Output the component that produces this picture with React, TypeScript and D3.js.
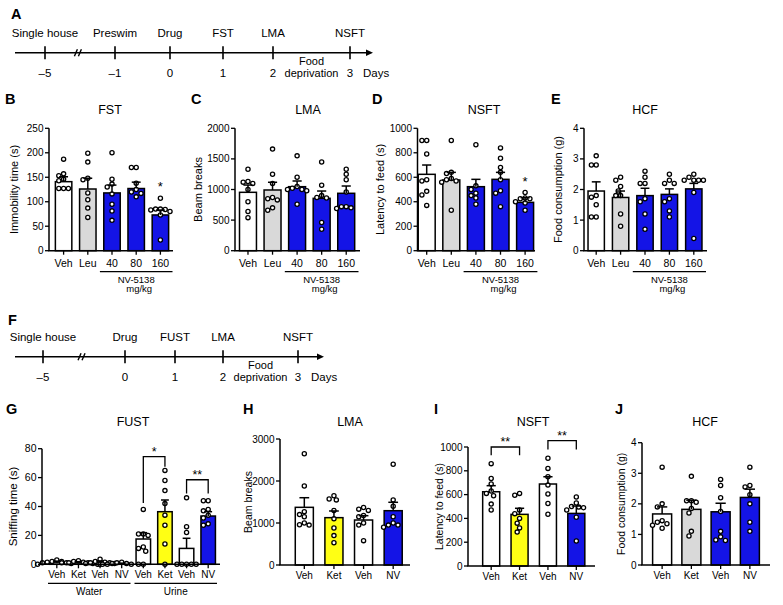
import React from "react";
import * as d3 from "d3";

const FONT = "'Liberation Sans', Arial, Helvetica, sans-serif";

// ---------------- Data ----------------
// Timelines
const timelineAEvents = ["Single house", "Preswim", "Drug", "FST", "LMA", "NSFT"];
const timelineADays = [-5, -1, 0, 1, 2, 3];
const timelineFEvents = ["Single house", "Drug", "FUST", "LMA", "NSFT"];
const timelineFDays = [-5, 0, 1, 2, 3];

// Panels B–E
const doseCategories = ["Veh", "Leu", "40", "80", "160"];
const doseGroupLabel = ["NV-5138", "mg/kg"];

const fstMeans = [141, 126, 118, 127, 73];
const fstSem = [10, 22, 16, 13, 10];
const fstPoints = [
  [187, 157, 153, 146, 143, 127, 127, 127],
  [199, 181, 148, 145, 118, 104, 87, 68],
  [200, 146, 136, 130, 116, 95, 81, 62],
  [170, 170, 138, 125, 120, 117, 110],
  [107, 85, 85, 84, 83, 80, 73, 22],
];
const fstTicks = [0, 50, 100, 150, 200, 250];
const fstStars = ["", "", "", "", "*"];

const lmaMeans = [954, 992, 1046, 856, 938];
const lmaSem = [119, 126, 93, 119, 119];
const lmaPoints = [
  [1330, 1130, 1120, 1100, 1000, 800, 640, 540],
  [1660, 1250, 1100, 870, 850, 830, 700, 660],
  [1550, 1200, 1050, 1020, 1000, 1000, 980, 760],
  [1450, 1070, 900, 870, 860, 460, 350],
  [1330, 1250, 1160, 960, 720, 720, 700, 690],
];
const lmaTicks = [0, 500, 1000, 1500, 2000];

const nsftMeans = [624, 578, 523, 583, 395];
const nsftSem = [76, 62, 60, 57, 38];
const nsftPoints = [
  [900, 900, 790, 580, 570, 485, 455, 370],
  [900, 640, 630, 590, 580, 570, 560, 330],
  [865, 530, 500, 470, 450, 430, 380],
  [840, 755, 680, 640, 580, 490, 470, 360],
  [475, 430, 425, 425, 400, 390, 330],
];
const nsftTicks = [0, 200, 400, 600, 800, 1000];
const nsftStars = ["", "", "", "", "*"];

const hcfMeans = [1.95, 1.74, 1.8, 1.84, 2.02];
const hcfSem = [0.3, 0.21, 0.24, 0.18, 0.18];
const hcfPoints = [
  [3.1, 2.8, 2.8, 1.8, 1.75, 1.5, 1.1, 1.1],
  [2.4, 2.3, 2.1, 1.95, 1.8, 1.8, 1.2, 0.8],
  [2.6, 2.4, 2.2, 2.2, 1.7, 1.6, 1.2, 0.7],
  [2.5, 2.3, 2.2, 2.2, 1.7, 1.6, 1.3, 1.1],
  [2.5, 2.4, 2.3, 2.3, 2.3, 2.3, 1.9, 0.4],
];
const hcfTicks = [0, 1, 2, 3, 4];

// Panel G (FUST)
const fustCategories = ["Veh", "Ket", "Veh", "NV", "Veh", "Ket", "Veh", "NV"];
const fustGroups = ["Water", "Urine"];
const fustMeans = [1.5, 1.2, 1.5, 0.5, 17.5, 36.4, 11, 33.4];
const fustSem = [0.7, 0.6, 0.8, 0.3, 4.4, 8.1, 7, 3];
const fustPoints = [
  [3, 2, 2, 1.5, 1, 1, 0.5, 0],
  [2.5, 2, 1.5, 1, 1, 1, 0.5, 0],
  [3.5, 2, 1.5, 1, 1, 0.5, 0.5, 0],
  [1.5, 1, 0.5, 0.5, 0, 0, 0, 0],
  [38, 21, 21, 20, 12, 11, 9, 0],
  [65, 58, 51, 42, 34, 27, 14, 0],
  [46, 26, 22, 0, 0, 0, 0, 0],
  [44, 44, 38, 37, 34, 32, 28, 27],
];
const fustTicks = [0, 20, 40, 60, 80];
const fustBrackets = [
  { from: 4, to: 5, label: "*", top: 74.5, left: 42.5, right: 67.5 },
  { from: 6, to: 7, label: "**", top: 58.5, left: 49, right: 49 },
];

// Panels H–J
const ketNvCategories = ["Veh", "Ket", "Veh", "NV"];

const lma2Means = [1373, 1127, 1071, 1293];
const lma2Sem = [229, 159, 103, 200];
const lma2Points = [
  [2650, 1880, 1270, 1200, 1150, 1000, 960, 950],
  [1650, 1570, 1550, 1300, 1100, 880, 700, 530],
  [1370, 1330, 1300, 1180, 1150, 1000, 950, 580],
  [2400, 1550, 1400, 1150, 1000, 950, 950, 900],
];
const lma2Ticks = [0, 1000, 2000, 3000];

const nsft2Means = [624, 434, 689, 442];
const nsft2Sem = [51, 51, 61, 62];
const nsft2Points = [
  [860, 735, 690, 630, 610, 590, 520, 470],
  [610, 595, 470, 440, 400, 360, 320, 285],
  [905, 820, 750, 680, 605, 525, 435],
  [580, 530, 500, 495, 490, 470, 410, 210],
];
const nsft2Ticks = [0, 200, 400, 600, 800, 1000];
const nsft2Brackets = [
  { from: 0, to: 1, label: "**", top: 1000, left: 930, right: 930 },
  { from: 2, to: 3, label: "**", top: 1053, left: 980, right: 980 },
];

const hcf2Means = [1.67, 1.82, 1.74, 2.21];
const hcf2Sem = [0.23, 0.3, 0.28, 0.27];
const hcf2Points = [
  [3.2, 2.0, 1.9, 1.45, 1.4, 1.35, 1.3, 1.2],
  [2.9, 2.1, 2.1, 2.05, 1.85, 1.7, 1.1, 0.95],
  [2.8, 2.6, 2.2, 1.75, 1.1, 0.92, 0.82, 0.8],
  [3.2, 2.6, 2.55, 2.3, 2.0, 1.4, 1.1],
];
const hcf2Ticks = [0, 1, 2, 3, 4];

// ---------------- Styles ----------------
const WHITE = "#ffffff";
const GRAY = "#d9d9d9";
const BLUE = "#1414e6";
const YELLOW = "#ffff14";

const doseColors = [WHITE, GRAY, BLUE, BLUE, BLUE];
const fustColors = [WHITE, WHITE, WHITE, WHITE, WHITE, YELLOW, WHITE, BLUE];
const ketNvColors = [WHITE, YELLOW, WHITE, BLUE];
const hcf2Colors = [WHITE, GRAY, BLUE, BLUE];

// ---------------- Helpers ----------------
function swarm(ys: number[], r: number): number[] {
  const d = 2 * r + 0.6;
  const xs = new Array(ys.length).fill(0);
  const placed: [number, number][] = [];
  const order = d3.range(ys.length).sort((a, b) => ys[a] - ys[b]);
  for (const i of order) {
    for (let k = 0; k < 60; k++) {
      const off = k === 0 ? 0 : (k % 2 ? -1 : 1) * Math.ceil(k / 2) * (d / 2);
      const ok = placed.every(([px, py]) => (px - off) ** 2 + (py - ys[i]) ** 2 >= d * d);
      if (ok) {
        xs[i] = off;
        placed.push([off, ys[i]]);
        break;
      }
    }
  }
  return xs;
}

type Layout = {
  axisX: number;
  xEnd: number;
  yTop: number;
  yBottom: number;
  bandStart: number;
  bandEnd: number;
  pad: number;
};

type Bracket = { from: number; to: number; label: string; top: number; left: number; right: number };

type PanelProps = {
  L: Layout;
  cats: string[];
  means: number[];
  sem: number[];
  points: number[][];
  colors: string[];
  ticks: number[];
  letter: string;
  letterX: number;
  letterY: number;
  title: string;
  titleX: number;
  titleY: number;
  yLabel: string;
  yLabelX: number;
  yLabelSize: number;
  tickSize: number;
  catSize: number;
  catDy: number;
  stars?: string[];
  brackets?: Bracket[];
  groups?: { from: number; to: number; lines: string[] }[];
  groupLineDy?: number;
  groupTextDy?: number[];
  groupInset?: number;
  groupShift?: number[];
  groupSize?: number;
};

function BarPanel(p: PanelProps) {
  const L = p.L;
  const y = d3.scaleLinear().domain([0, p.ticks[p.ticks.length - 1]]).range([L.yBottom, L.yTop]);
  const idx = p.cats.map((_, i) => String(i));
  const x = d3
    .scaleBand<string>()
    .domain(idx)
    .range([L.bandStart, L.bandEnd])
    .paddingInner(L.pad)
    .paddingOuter(L.pad / 2);
  const bw = x.bandwidth();
  const step = x.step();
  const cx = (i: number) => (x(String(i)) as number) + bw / 2;
  const r = 2.1;
  return (
    <g>
      <text x={p.letterX} y={p.letterY} fontSize={14.5} fontWeight={900}>
        {p.letter}
      </text>
      <text x={p.titleX} y={p.titleY} fontSize={12.5} textAnchor="middle">
        {p.title}
      </text>
      <text
        transform={`translate(${p.yLabelX},${(L.yTop + L.yBottom) / 2}) rotate(-90)`}
        textAnchor="middle"
        dy="0.35em"
        fontSize={p.yLabelSize}
      >
        {p.yLabel}
      </text>
      {p.means.map((m, i) => (
        <rect
          key={"b" + i}
          x={x(String(i))}
          y={y(m)}
          width={bw}
          height={y(0) - y(m)}
          fill={p.colors[i]}
          stroke="#000"
          strokeWidth={1.5}
        />
      ))}
      {p.points.map((pts, i) => {
        const ys = pts.map((v) => y(v));
        const xs = swarm(ys, r);
        return pts.map((_, j) => (
          <circle
            key={`p${i}-${j}`}
            cx={cx(i) + xs[j]}
            cy={ys[j]}
            r={r}
            fill="#fff"
            stroke="#000"
            strokeWidth={1.3}
          />
        ));
      })}
      {p.means.map((m, i) => (
        <g key={"e" + i} stroke="#000" strokeWidth={1.5}>
          <line x1={cx(i)} x2={cx(i)} y1={y(m)} y2={y(m + p.sem[i])} />
          <line x1={cx(i) - bw * 0.27} x2={cx(i) + bw * 0.27} y1={y(m + p.sem[i])} y2={y(m + p.sem[i])} />
        </g>
      ))}
      {p.stars &&
        p.stars.map((s, i) =>
          s ? (
            <text key={"s" + i} x={cx(i)} y={y(d3.max(p.points[i]) as number) - 7} textAnchor="middle" fontSize={13}>
              {s}
            </text>
          ) : null
        )}
      {p.brackets &&
        p.brackets.map((b, i) => (
          <g key={"br" + i}>
            <path
              d={`M${cx(b.from)},${y(b.left)} L${cx(b.from)},${y(b.top)} L${cx(b.to)},${y(b.top)} L${cx(b.to)},${y(b.right)}`}
              fill="none"
              stroke="#000"
              strokeWidth={1.3}
            />
            <text x={(cx(b.from) + cx(b.to)) / 2} y={y(b.top) - 1} textAnchor="middle" fontSize={12.5}>
              {b.label}
            </text>
          </g>
        ))}
      {/* axes */}
      <line x1={L.axisX} x2={L.axisX} y1={L.yTop} y2={L.yBottom} stroke="#000" strokeWidth={1.5} />
      <line x1={L.axisX - 0.75} x2={L.xEnd} y1={L.yBottom} y2={L.yBottom} stroke="#000" strokeWidth={1.5} />
      {p.ticks.map((t) => (
        <g key={"t" + t}>
          <line x1={L.axisX - 4} x2={L.axisX} y1={y(t)} y2={y(t)} stroke="#000" strokeWidth={1.3} />
          <text x={L.axisX - 5.5} y={y(t)} dy="0.35em" textAnchor="end" fontSize={p.tickSize}>
            {String(t)}
          </text>
        </g>
      ))}
      {p.cats.map((c, i) => (
        <g key={"c" + i}>
          <line x1={cx(i)} x2={cx(i)} y1={L.yBottom} y2={L.yBottom + 4} stroke="#000" strokeWidth={1.3} />
          <text x={cx(i)} y={L.yBottom + p.catDy} textAnchor="middle" fontSize={p.catSize}>
            {c}
          </text>
        </g>
      ))}
      {p.groups &&
        p.groups.map((g, gi) => {
          const inset = p.groupInset || 0;
          const x0 = (x(String(g.from)) as number) - (step - bw) / 2 + inset;
          const x1 = (x(String(g.to)) as number) + bw + (step - bw) / 2 - inset;
          const mid = (x0 + x1) / 2;
          return (
            <g key={"g" + gi}>
              <line
                x1={x0}
                x2={x1}
                y1={L.yBottom + (p.groupLineDy || 20)}
                y2={L.yBottom + (p.groupLineDy || 20)}
                stroke="#000"
                strokeWidth={1.3}
              />
              {g.lines.map((ln, li) => (
                <text
                  key={li}
                  x={mid + (p.groupShift ? p.groupShift[li] : 0)}
                  y={L.yBottom + (p.groupTextDy ? p.groupTextDy[li] : 32)}
                  textAnchor="middle"
                  fontSize={p.groupSize || p.catSize}
                >
                  {ln}
                </text>
              ))}
            </g>
          );
        })}
    </g>
  );
}

type TLayout = {
  letterX: number;
  letterY: number;
  lineY: number;
  x0: number;
  xArrow: number;
  dayRange: number[];
};

function Timeline({ events, days, letter, L }: { events: string[]; days: number[]; letter: string; L: TLayout }) {
  const x = d3.scaleLinear().domain(days).range(L.dayRange);
  const y0 = L.lineY;
  const bx = x(days[0]) + (x(days[1]) - x(days[0])) * 0.47;
  const last = days[days.length - 1];
  const prev = days[days.length - 2];
  const fdx = (x(prev) + x(last)) / 2;
  return (
    <g fontSize={11.5}>
      <text x={L.letterX} y={L.letterY} fontSize={14.5} fontWeight={900}>
        {letter}
      </text>
      <line x1={L.x0} x2={L.xArrow - 5} y1={y0} y2={y0} stroke="#000" strokeWidth={1.6} />
      <path d={`M${L.xArrow},${y0} L${L.xArrow - 7},${y0 - 3.2} L${L.xArrow - 7},${y0 + 3.2} Z`} fill="#000" />
      {days.map((d, i) => (
        <g key={i}>
          <line x1={x(d)} x2={x(d)} y1={y0 - 6.5} y2={y0 + 6.5} stroke="#000" strokeWidth={1.6} />
          <text x={x(d)} y={y0 - 16} textAnchor="middle">
            {events[i]}
          </text>
          <text x={x(d)} y={y0 + 24} textAnchor="middle">
            {d < 0 ? `–${-d}` : String(d)}
          </text>
        </g>
      ))}
      <g stroke="#000" strokeWidth={1.4}>
        <line x1={bx - 3.5} y1={y0 + 3.5} x2={bx - 0.5} y2={y0 - 3.5} />
        <line x1={bx + 0.5} y1={y0 + 3.5} x2={bx + 3.5} y2={y0 - 3.5} />
      </g>
      <text x={fdx} y={y0 + 12} textAnchor="middle" fontSize={11}>
        Food
      </text>
      <text x={fdx} y={y0 + 24.5} textAnchor="middle" fontSize={11}>
        deprivation
      </text>
      <text x={x(last) + 13} y={y0 + 24}>
        Days
      </text>
    </g>
  );
}

// ---------------- Layouts ----------------
const topRow = { yTop: 128.3, yBottom: 250.7 };
const layoutB: Layout = { axisX: 49, xEnd: 173, ...topRow, bandStart: 51.5, bandEnd: 172.5, pad: 0.32 };
const layoutC: Layout = { axisX: 235, xEnd: 360, ...topRow, bandStart: 235.7, bandEnd: 358.5, pad: 0.31 };
const layoutD: Layout = { axisX: 417.5, xEnd: 535, ...topRow, bandStart: 414.4, bandEnd: 537.4, pad: 0.31 };
const layoutE: Layout = { axisX: 584, xEnd: 707, ...topRow, bandStart: 584, bandEnd: 706, pad: 0.33 };
const layoutG: Layout = { axisX: 42, xEnd: 220, yTop: 448.7, yBottom: 564.3, bandStart: 46, bandEnd: 219, pad: 0.33 };
const layoutH: Layout = { axisX: 280, xEnd: 410, yTop: 439, yBottom: 565, bandStart: 289.5, bandEnd: 408, pad: 0.39 };
const layoutI: Layout = { axisX: 468, xEnd: 595, yTop: 447, yBottom: 566, bandStart: 477, bandEnd: 590.5, pad: 0.4 };
const layoutJ: Layout = { axisX: 642, xEnd: 770, yTop: 442.7, yBottom: 565, bandStart: 647.5, bandEnd: 764.5, pad: 0.35 };

const tlA: TLayout = { letterX: 11, letterY: 19, lineY: 52.7, x0: 15, xArrow: 373, dayRange: [45, 115, 170, 223, 273, 350] };
const tlF: TLayout = { letterX: 8, letterY: 325, lineY: 356.7, x0: 15, xArrow: 324, dayRange: [43, 125, 175, 223, 298] };

const doseGroups = [{ from: 2, to: 4, lines: doseGroupLabel }];
const fustGroupDefs = [
  { from: 0, to: 3, lines: [fustGroups[0]] },
  { from: 4, to: 7, lines: [fustGroups[1]] },
];

const topCommon = {
  cats: doseCategories,
  colors: doseColors,
  letterY: 103.5,
  titleY: 114,
  yLabelSize: 11,
  tickSize: 10,
  catSize: 10.5,
  catDy: 16.5,
  groups: doseGroups,
  groupLineDy: 21,
  groupTextDy: [32, 41.5],
  groupShift: [0, 3],
  groupSize: 9.5,
};

const bottomCommon = {
  letterY: 414,
  titleY: 426,
  tickSize: 10,
  catSize: 10,
  catDy: 14,
  yLabelSize: 10.5,
};

export default function App() {
  return (
    <svg
      width={783}
      height={605}
      viewBox="0 0 783 605"
      style={{ position: "absolute", left: 0, top: 0, display: "block" }}
      fontFamily={FONT}
    >
      <rect width={783} height={605} fill="#fff" />
      <Timeline events={timelineAEvents} days={timelineADays} letter="A" L={tlA} />
      <BarPanel
        {...topCommon}
        L={layoutB}
        means={fstMeans}
        sem={fstSem}
        points={fstPoints}
        ticks={fstTicks}
        letter="B"
        letterX={5}
        title="FST"
        titleX={110}
        yLabel="Immobility time (s)"
        yLabelX={14}
        stars={fstStars}
      />
      <BarPanel
        {...topCommon}
        L={layoutC}
        means={lmaMeans}
        sem={lmaSem}
        points={lmaPoints}
        ticks={lmaTicks}
        letter="C"
        letterX={191}
        title="LMA"
        titleX={308}
        yLabel="Beam breaks"
        yLabelX={198}
      />
      <BarPanel
        {...topCommon}
        L={layoutD}
        means={nsftMeans}
        sem={nsftSem}
        points={nsftPoints}
        ticks={nsftTicks}
        letter="D"
        letterX={372}
        title="NSFT"
        titleX={484}
        yLabel="Latency to feed (s)"
        yLabelX={380}
        stars={nsftStars}
      />
      <BarPanel
        {...topCommon}
        L={layoutE}
        means={hcfMeans}
        sem={hcfSem}
        points={hcfPoints}
        ticks={hcfTicks}
        letter="E"
        letterX={551}
        title="HCF"
        titleX={645}
        yLabel="Food consumption (g)"
        yLabelX={558}
      />
      <Timeline events={timelineFEvents} days={timelineFDays} letter="F" L={tlF} />
      <BarPanel
        {...bottomCommon}
        L={layoutG}
        cats={fustCategories}
        colors={fustColors}
        means={fustMeans}
        sem={fustSem}
        points={fustPoints}
        ticks={fustTicks}
        letter="G"
        letterX={6}
        title="FUST"
        titleX={133}
        yLabel="Sniffing time (s)"
        yLabelX={13}
        yLabelSize={11.5}
        tickSize={10.5}
        brackets={fustBrackets}
        groups={fustGroupDefs}
        groupLineDy={19}
        groupTextDy={[31]}
        groupInset={2}
      />
      <BarPanel
        {...bottomCommon}
        L={layoutH}
        cats={ketNvCategories}
        colors={ketNvColors}
        means={lma2Means}
        sem={lma2Sem}
        points={lma2Points}
        ticks={lma2Ticks}
        letter="H"
        letterX={243}
        title="LMA"
        titleX={350}
        yLabel="Beam breaks"
        yLabelX={248}
      />
      <BarPanel
        {...bottomCommon}
        L={layoutI}
        cats={ketNvCategories}
        colors={ketNvColors}
        means={nsft2Means}
        sem={nsft2Sem}
        points={nsft2Points}
        ticks={nsft2Ticks}
        letter="I"
        letterX={434}
        title="NSFT"
        titleX={533}
        yLabel="Latency to feed (s)"
        yLabelX={439}
        brackets={nsft2Brackets}
      />
      <BarPanel
        {...bottomCommon}
        L={layoutJ}
        cats={ketNvCategories}
        colors={hcf2Colors}
        means={hcf2Means}
        sem={hcf2Sem}
        points={hcf2Points}
        ticks={hcf2Ticks}
        letter="J"
        letterX={615}
        title="HCF"
        titleX={705}
        yLabel="Food consumption (g)"
        yLabelX={621}
      />
    </svg>
  );
}
